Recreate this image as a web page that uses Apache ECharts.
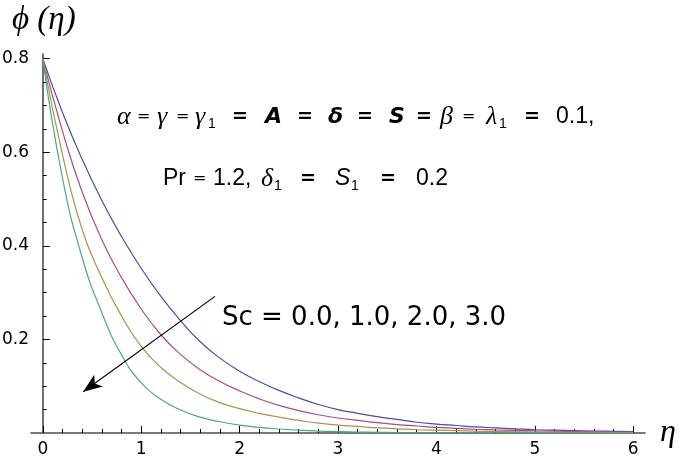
<!DOCTYPE html>
<html style="height: 100%;width: 100%">
<head>
    <meta charset="UTF-8">
    <script type="text/javascript" src="https://cdn.jsdelivr.net/npm/echarts@6/dist/echarts.min.js"></script>
    <title>phi(eta)</title>
    <style>
    body{margin:0;background:#fff;}
</style>
</head>
<body>
<div id="main" style="width: 685px;height:461px;"></div>
<script type="text/javascript">
    // η 采样点(步长 0.2)与四条曲线
    var eta = [0, 0.2, 0.4, 0.6, 0.8, 1.0, 1.2, 1.4, 1.6, 1.8, 2.0, 2.2, 2.4, 2.6, 2.8, 3.0,
               3.2, 3.4, 3.6, 3.8, 4.0, 4.2, 4.4, 4.6, 4.8, 5.0, 5.2, 5.4, 5.6, 5.8, 6.0];
    var sc0 = [0.8, 0.685, 0.585, 0.497, 0.42, 0.352, 0.292, 0.24, 0.195, 0.16, 0.132, 0.11, 0.091, 0.075, 0.061, 0.05,
               0.042, 0.035, 0.029, 0.023, 0.019, 0.016, 0.013, 0.011, 0.009, 0.007, 0.006, 0.005, 0.0042, 0.0035, 0.003];
    var sc1 = [0.8, 0.645, 0.515, 0.413, 0.332, 0.265, 0.21, 0.168, 0.135, 0.11, 0.09, 0.073, 0.059, 0.048, 0.039, 0.032,
               0.027, 0.022, 0.018, 0.015, 0.012, 0.01, 0.008, 0.0065, 0.0055, 0.0045, 0.004, 0.0033, 0.0028, 0.0024, 0.002];
    var sc2 = [0.8, 0.595, 0.435, 0.332, 0.25, 0.185, 0.14, 0.108, 0.083, 0.065, 0.052, 0.042, 0.034, 0.027, 0.021, 0.017,
               0.014, 0.011, 0.009, 0.007, 0.006, 0.005, 0.004, 0.0032, 0.0026, 0.002, 0.0017, 0.0014, 0.0012, 0.001, 0.0008];
    var sc3 = [0.8, 0.545, 0.375, 0.257, 0.167, 0.107, 0.072, 0.049, 0.034, 0.024, 0.017, 0.012, 0.0085, 0.006, 0.0042, 0.003,
               0.002, 0.0015, 0.001, 0.0008, 0.0006, 0.0005, 0.0004, 0.0003, 0.0002, 0.0001, 0, 0, 0, 0, 0];

    // 刻度
    var xMajor = [0, 1, 2, 3, 4, 5, 6];
    var xMinor = [0.2, 0.4, 0.6, 0.8, 1.2, 1.4, 1.6, 1.8, 2.2, 2.4, 2.6, 2.8, 3.2, 3.4, 3.6, 3.8, 4.2, 4.4, 4.6, 4.8, 5.2, 5.4, 5.6, 5.8];
    var yMajor = [0.2, 0.4, 0.6, 0.8];
    var yMinor = [0.05, 0.1, 0.15, 0.25, 0.3, 0.35, 0.45, 0.5, 0.55, 0.65, 0.7, 0.75];

    // 箭头 (Sc 增大方向)
    var arrowFrom = [1.75, 0.292];
    var arrowTo = [0.41, 0.088];

    var colors = ['#4b4bae', '#ad4a82', '#a99448', '#48aa7b'];
    var curves = [sc0, sc1, sc2, sc3];

    function pairs(ys) {
        var out = [];
        for (var i = 0; i < eta.length; i++) out.push([eta[i], ys[i]]);
        return out;
    }

    var sans = '"DejaVu Sans", sans-serif';
    var lsans = '"Liberation Sans", Arial, sans-serif';
    var serif = '"Liberation Serif", "Times New Roman", serif';

    // 参数说明文字: [文字, 左边位置, 字体, 是否下标]
    var fG = 'italic 26px ' + serif;
    var fe = '16px ' + sans;
    var fE = 'bold 19px ' + sans;
    var fB = 'italic bold 22px ' + sans;
    var fN = '23px ' + lsans;
    var fS = '14px ' + lsans;
    var line1 = [
        ['α', 117, fG], ['=', 137, fe], ['γ', 157, fG], ['=', 176, fe], ['γ', 195, fG], ['1', 208, fS, 1],
        ['=', 232, fE], ['A', 265, fB], ['=', 297, fE], ['δ', 328, fB], ['=', 357, fE], ['S', 389, fB],
        ['=', 416, fE], ['β', 440, fG], ['=', 462, fe], ['λ', 486, fG], ['1', 499, fS, 1], ['=', 524, fE],
        ['0.1,', 556, fN]
    ];
    var line2 = [
        ['Pr', 163, fN], ['=', 193, fe], ['1.2,', 213, fN], ['δ', 261, fG], ['1', 274, fS, 1], ['=', 300, fE],
        ['S', 335, 'italic 23px ' + lsans], ['1', 351, fS, 1], ['=', 380, fE], ['0.2', 416, fN]
    ];

    function textRow(items, cy) {
        return items.map(function (it) {
            return {
                type: 'text', x: it[1], y: it[3] ? cy + 7 : cy,
                style: {text: it[0], font: it[2], fill: '#000', textVerticalAlign: 'middle'}
            };
        });
    }

    var myChart = echarts.init(document.getElementById('main'));

    var series = [];
    for (var k = 0; k < curves.length; k++) {
        series.push({
            type: 'line',
            data: pairs(curves[k]),
            smooth: 0.5,
            showSymbol: false,
            silent: true,
            lineStyle: {color: colors[k], width: 1.2},
            z: 3
        });
    }
    series[0].markLine = {
        silent: true,
        symbol: ['none', 'arrow'],
        symbolSize: [11, 19],
        label: {show: false},
        lineStyle: {color: '#000', width: 1.2, type: 'solid'},
        data: [[{coord: arrowFrom}, {coord: arrowTo}]]
    };

    var graphics = [{
        type: 'text', left: 12, top: 4,
        style: {text: 'ϕ (η)', font: 'italic 33px ' + serif, fill: '#000'}
    }, {
        type: 'text', x: 222, y: 318,
        style: {text: 'Sc = 0.0, 1.0, 2.0, 3.0', font: '26px ' + sans, fill: '#000', textVerticalAlign: 'middle'}
    }].concat(textRow(line1, 117)).concat(textRow(line2, 179));

    var option = {
        animation: false,
        grid: {left: 31, right: 40, top: 54, bottom: 28, outerBoundsMode: 'none', containLabel: false},
        xAxis: [{
            type: 'value', min: -0.12, max: 6.12,
            name: 'η', nameLocation: 'end', nameGap: 15,
            nameTextStyle: {fontFamily: serif, fontStyle: 'italic', fontSize: 32, color: '#000', padding: [0, 0, 6, 0]},
            axisLine: {onZero: true, lineStyle: {color: '#4d4d4d', width: 1.6}},
            axisTick: {inside: true, length: 7, customValues: xMajor, lineStyle: {color: '#000', width: 1}},
            axisLabel: {customValues: xMajor, margin: 8, fontFamily: sans, fontSize: 17, color: '#000'},
            splitLine: {show: false}
        }, {
            type: 'value', min: -0.12, max: 6.12, position: 'bottom',
            axisLine: {show: false},
            axisTick: {inside: true, length: 4, customValues: xMinor, lineStyle: {color: '#000', width: 1}},
            axisLabel: {show: false},
            splitLine: {show: false}
        }],
        yAxis: [{
            type: 'value', min: 0, max: 0.81,
            axisLine: {onZero: true, lineStyle: {color: '#4d4d4d', width: 1.6}},
            axisTick: {inside: true, length: 7, customValues: yMajor, lineStyle: {color: '#000', width: 1}},
            axisLabel: {customValues: yMajor, margin: 2, fontFamily: sans, fontSize: 17, color: '#000',
                formatter: function (v) { return v.toFixed(1); }},
            splitLine: {show: false}
        }, {
            type: 'value', min: 0, max: 0.81, position: 'left',
            axisLine: {show: false, onZero: true, onZeroAxisIndex: 0},
            axisTick: {inside: true, length: 4, customValues: yMinor, lineStyle: {color: '#000', width: 1}},
            axisLabel: {show: false},
            splitLine: {show: false}
        }],
        graphic: graphics,
        series: series
    };

    myChart.setOption(option);
</script>
</body>
</html>
